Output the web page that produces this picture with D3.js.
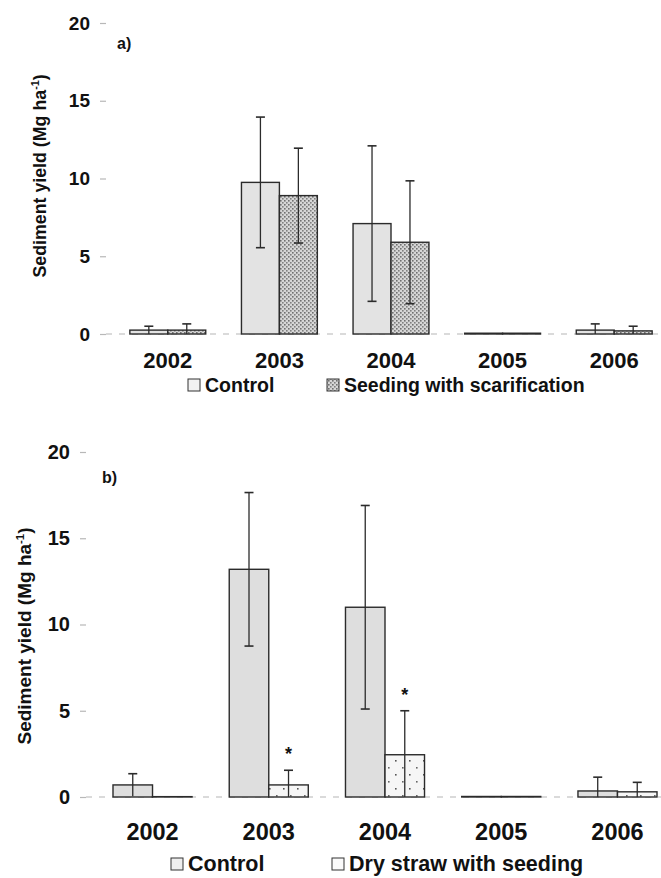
<!DOCTYPE html>
<html>
<head>
<meta charset="utf-8">
<script src="https://cdn.jsdelivr.net/npm/d3@7"></script>
<style>
  html, body { margin: 0; padding: 0; background: #ffffff; }
  svg { display: block; font-family: "Liberation Sans", Arial, sans-serif; font-weight: bold; }
</style>
</head>
<body>
<svg id="chart" width="661" height="878"></svg>
<script>
// Sediment yield by year, two treatment comparisons
const years = ["2002", "2003", "2004", "2005", "2006"];
const yTicks = [0, 5, 10, 15, 20];

// Panel a: control vs. seeding with scarification
const seriesA = ["Control", "Seeding with scarification"];
const controlA = [0.25, 9.75, 7.1, 0.05, 0.25];
const controlAErr = [0.25, 4.2, 5.0, 0.05, 0.4];
const seedingA = [0.25, 8.9, 5.9, 0.05, 0.2];
const seedingAErr = [0.4, 3.05, 3.95, 0.05, 0.3];

// Panel b: control vs. dry straw with seeding
const seriesB = ["Control", "Dry straw with seeding"];
const controlB = [0.7, 13.2, 11.0, 0.03, 0.35];
const controlBErr = [0.65, 4.45, 5.9, 0.02, 0.8];
const strawB = [0.02, 0.7, 2.45, 0.03, 0.3];
const strawBErr = [0.0, 0.85, 2.55, 0.02, 0.55];
const strawBSignif = [false, true, true, false, false];

const svg = d3.select("#chart");
const ink = "#2b2b2b";

// fill patterns
const defs = svg.append("defs");
const dense = defs.append("pattern").attr("id", "dense").attr("patternUnits", "userSpaceOnUse")
  .attr("width", 4).attr("height", 4);
dense.append("rect").attr("width", 4).attr("height", 4).attr("fill", "#d6d6d6");
dense.append("rect").attr("x", 0).attr("y", 0).attr("width", 1.6).attr("height", 1.6).attr("fill", "#707070");
dense.append("rect").attr("x", 2).attr("y", 2).attr("width", 1.6).attr("height", 1.6).attr("fill", "#808080");

const sparse = defs.append("pattern").attr("id", "sparse").attr("patternUnits", "userSpaceOnUse")
  .attr("width", 14).attr("height", 14);
sparse.append("rect").attr("width", 14).attr("height", 14).attr("fill", "#f6f6f6");
sparse.append("rect").attr("x", 3).attr("y", 4).attr("width", 1.6).attr("height", 1.6).attr("fill", "#555");
sparse.append("rect").attr("x", 10).attr("y", 11).attr("width", 1.6).attr("height", 1.6).attr("fill", "#666");

function drawPanel(cfg) {
  const g = svg.append("g");
  const y = d3.scaleLinear().domain([0, 20]).range([cfg.y0, cfg.y20]);
  const x = d3.scaleBand().domain(years).range(cfg.xRange).paddingInner(0.32).paddingOuter(0.16);
  const xi = d3.scaleBand().domain(cfg.series).range([0, x.bandwidth()]);

  // y axis: tick marks and labels only
  const ax = g.append("g").attr("transform", `translate(${cfg.axisX},0)`)
    .call(d3.axisLeft(y).tickValues(yTicks).tickSize(6).tickPadding(10).tickFormat(d3.format("d")));
  ax.select(".domain").remove();
  ax.selectAll(".tick line").attr("stroke", "#b8b8b8").attr("stroke-width", 1.2);
  ax.selectAll(".tick text").attr("fill", "#111").attr("font-size", cfg.tickSize)
    .attr("font-family", "Liberation Sans, Arial, sans-serif").attr("font-weight", "bold");

  // dashed zero line
  g.append("line").attr("x1", cfg.axisX).attr("x2", cfg.xRange[1]).attr("y1", y(0)).attr("y2", y(0))
    .attr("stroke", "#b5b5b5").attr("stroke-width", 1.2).attr("stroke-dasharray", "6,7");

  // bars
  cfg.data.forEach((s, si) => {
    const name = cfg.series[si];
    const grp = g.append("g");
    grp.selectAll("rect").data(years).join("rect")
      .attr("x", d => x(d) + xi(name))
      .attr("width", xi.bandwidth())
      .attr("y", (d, i) => y(s.values[i]))
      .attr("height", (d, i) => y(0) - y(s.values[i]))
      .attr("fill", s.fill).attr("stroke", ink).attr("stroke-width", 1.4);

    // error bars with caps
    const cx = d => x(d) + xi(name) + xi.bandwidth() / 2;
    const hi = i => y(s.values[i] + s.errs[i]);
    const lo = i => y(Math.max(0, s.values[i] - s.errs[i]));
    grp.selectAll("g.err").data(years).join("g").attr("class", "err")
      .filter((d, i) => s.errs[i] > 0.06).each(function (d) {
        const i = years.indexOf(d);
        const e = d3.select(this);
        e.append("line").attr("x1", cx(d)).attr("x2", cx(d)).attr("y1", hi(i)).attr("y2", lo(i))
          .attr("stroke", ink).attr("stroke-width", 1.3);
        e.append("line").attr("x1", cx(d) - 4.5).attr("x2", cx(d) + 4.5).attr("y1", hi(i)).attr("y2", hi(i))
          .attr("stroke", ink).attr("stroke-width", 1.6);
        if (s.values[i] - s.errs[i] > 0.1) {
          e.append("line").attr("x1", cx(d) - 4.5).attr("x2", cx(d) + 4.5).attr("y1", lo(i)).attr("y2", lo(i))
            .attr("stroke", ink).attr("stroke-width", 1.6);
        }
      });

    // significance marks
    if (s.signif) {
      grp.selectAll("text.sig").data(years.filter((d, i) => s.signif[i])).join("text")
        .attr("class", "sig")
        .attr("x", d => cx(d))
        .attr("y", d => hi(years.indexOf(d)) - 10)
        .attr("text-anchor", "middle").attr("font-size", 18).attr("fill", "#111").text("*");
    }
  });

  // year labels
  g.selectAll("text.year").data(years).join("text").attr("class", "year")
    .attr("x", d => x(d) + x.bandwidth() / 2).attr("y", cfg.yearY)
    .attr("text-anchor", "middle").attr("font-size", cfg.yearSize).attr("fill", "#111").text(d => d);

  // panel letter
  g.append("text").attr("x", cfg.letterX).attr("y", cfg.letterY).attr("font-size", 16).attr("fill", "#111").text(cfg.letter);

  // y title
  const t = g.append("text").attr("transform", `translate(${cfg.titleX},${cfg.titleY}) rotate(-90)`)
    .attr("text-anchor", "middle").attr("font-size", cfg.titleSize).attr("fill", "#111");
  t.append("tspan").text("Sediment yield (Mg ha");
  t.append("tspan").attr("dy", -7).attr("font-size", cfg.titleSize * 0.6).text("-1");
  t.append("tspan").attr("dy", 7).text(")");

  // legend
  const lg = g.append("g");
  cfg.legend.forEach((L, li) => {
    lg.append("rect").attr("x", L.x).attr("y", cfg.legendY - 13).attr("width", 12).attr("height", 12)
      .attr("fill", cfg.data[li].legendFill).attr("stroke", "#333").attr("stroke-width", 1);
    lg.append("text").attr("x", L.x + 17).attr("y", cfg.legendY).attr("font-size", cfg.legendSize).attr("fill", "#111")
      .text(cfg.series[li]);
  });
}

drawPanel({
  letter: "a)", letterX: 117, letterY: 49,
  y0: 334, y20: 23, axisX: 106, xRange: [112, 670],
  tickSize: 19, yearSize: 22, legendSize: 19.5,
  series: seriesA,
  data: [
    { values: controlA, errs: controlAErr, fill: "#e3e3e3", legendFill: "#f2f2f2" },
    { values: seedingA, errs: seedingAErr, fill: "url(#dense)", legendFill: "url(#dense)" }
  ],
  yearY: 368, legendY: 392,
  legend: [{ x: 188 }, { x: 327 }],
  titleX: 46, titleY: 176, titleSize: 17.8
});

drawPanel({
  letter: "b)", letterX: 102, letterY: 483,
  y0: 797, y20: 452, axisX: 86, xRange: [94.4, 675.6],
  tickSize: 20, yearSize: 23.5, legendSize: 21.5,
  series: seriesB,
  data: [
    { values: controlB, errs: controlBErr, fill: "#dedede", legendFill: "#eeeeee" },
    { values: strawB, errs: strawBErr, fill: "url(#sparse)", legendFill: "#fafafa", signif: strawBSignif }
  ],
  yearY: 840, legendY: 871,
  legend: [{ x: 171 }, { x: 332 }],
  titleX: 31, titleY: 636, titleSize: 19
});
</script>
</body>
</html>
